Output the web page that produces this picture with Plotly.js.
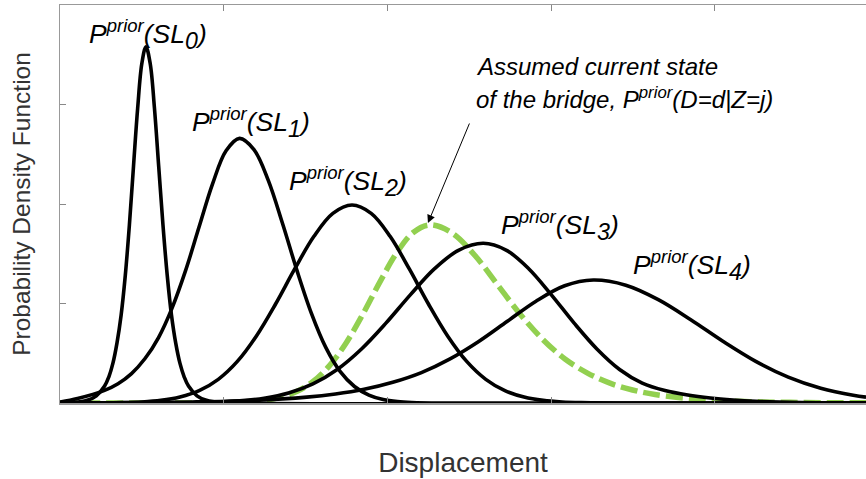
<!DOCTYPE html>
<html>
<head>
<meta charset="utf-8">
<script src="https://cdn.plot.ly/plotly-3.0.1.min.js"></script>
<style>html,body{margin:0;padding:0;background:#fff;}#chart{width:866px;height:479px;}</style>
</head>
<body>
<div id="chart"></div>
<script>
// Displacement (arbitrary units) and probability density values
const sl0X = [0, 0.020, 0.121, 0.1715, 0.222, 0.2725, 0.298, 0.323, 0.348, 0.3735, 0.399, 0.424, 0.449, 0.4745, 0.500, 0.525, 0.551, 0.577, 0.603, 0.629, 0.655, 0.681, 0.707, 0.733, 0.759, 0.785, 0.837, 0.889, 0.941, 1.045, 4.924];
const sl0Y = [0, 0.002, 0.0125, 0.030, 0.072, 0.170, 0.261, 0.398, 0.602, 0.885, 1.284, 1.790, 2.379, 2.964, 3.412, 3.58, 3.412, 2.964, 2.379, 1.790, 1.284, 0.885, 0.602, 0.398, 0.261, 0.170, 0.072, 0.030, 0.0125, 0.002, 0];

const sl1X = [0, 0.107, 0.272, 0.3545, 0.437, 0.5195, 0.602, 0.6845, 0.767, 0.8495, 0.932, 1.0145, 1.097, 1.185, 1.2725, 1.360, 1.448, 1.536, 1.6235, 1.711, 1.799, 1.887, 1.9745, 2.062, 2.150, 2.3255, 4.924];
const sl1Y = [0.01, 0.045, 0.127, 0.194, 0.296, 0.447, 0.658, 0.954, 1.33, 1.768, 2.202, 2.535, 2.66, 2.547, 2.237, 1.801, 1.33, 0.901, 0.559, 0.318, 0.166, 0.080, 0.035, 0.014, 0.005, 0, 0];

const sl2X = [0, 0.149, 0.383, 0.500, 0.6165, 0.733, 0.850, 0.967, 1.0835, 1.200, 1.317, 1.434, 1.5505, 1.667, 1.784, 1.901, 2.0175, 2.134, 2.251, 2.368, 2.4845, 2.601, 2.718, 2.835, 2.9515, 3.068, 3.185, 3.419, 4.924];
const sl2Y = [0, 0.0004, 0.004, 0.0105, 0.026, 0.060, 0.124, 0.238, 0.418, 0.674, 0.995, 1.347, 1.673, 1.906, 1.99, 1.906, 1.673, 1.347, 0.995, 0.674, 0.418, 0.238, 0.124, 0.060, 0.026, 0.0105, 0.004, 0.0004, 0];

const curX = [0, 0.8285, 1.033, 1.135, 1.2375, 1.340, 1.442, 1.544, 1.6465, 1.749, 1.851, 1.953, 2.0555, 2.158, 2.260, 2.3975, 2.535, 2.6725, 2.810, 2.9475, 3.085, 3.2225, 3.360, 3.4975, 3.635, 3.910, 4.185, 4.460, 4.735, 4.924];
const curY = [0, 0.0004, 0.0035, 0.0095, 0.0235, 0.054, 0.112, 0.214, 0.376, 0.606, 0.895, 1.212, 1.505, 1.714, 1.79, 1.706, 1.482, 1.189, 0.895, 0.642, 0.4425, 0.301, 0.199, 0.131, 0.0852, 0.0358, 0.0149, 0.0063, 0.0026, 0.0015];

const sl3X = [0, 0.5035, 0.801, 0.950, 1.0985, 1.247, 1.396, 1.545, 1.6935, 1.842, 1.991, 2.140, 2.2885, 2.437, 2.586, 2.725, 2.8635, 3.002, 3.141, 3.280, 3.4185, 3.557, 3.696, 3.835, 3.9735, 4.112, 4.251, 4.5285, 4.806, 4.924];
const sl3Y = [0, 0.0005, 0.003, 0.0085, 0.021, 0.048, 0.100, 0.192, 0.337, 0.543, 0.8025, 1.087, 1.350, 1.537, 1.605, 1.537, 1.350, 1.087, 0.8025, 0.543, 0.337, 0.200, 0.125, 0.080, 0.050, 0.030, 0.017, 0.005, 0.001, 0];

const sl4X = [0, 0.108, 0.458, 0.808, 1.158, 1.508, 1.683, 1.858, 2.033, 2.208, 2.383, 2.558, 2.733, 2.908, 3.083, 3.258, 3.4565, 3.655, 3.8535, 4.052, 4.2505, 4.449, 4.6475, 4.846, 4.924];
const sl4Y = [0.001, 0.0018, 0.0043, 0.0103, 0.0247, 0.0588, 0.090, 0.1376, 0.208, 0.3055, 0.443, 0.618, 0.821, 1.023, 1.178, 1.236, 1.184, 1.039, 0.837, 0.618, 0.4185, 0.260, 0.148, 0.077, 0.059];

const xTicks = [1, 2, 3, 4];
const yTicks = [1, 2, 3];

const levelIds = ['0', '1', '2', '3', '4'];
const labelX = [0.165, 0.797, 1.387, 2.682, 3.488];
const labelY = [3.705, 2.822, 2.224, 1.784, 1.377];

const noteLines = ['Assumed current state', 'of the bridge, P<sup>prior</sup>(D=d|Z=j)'];
const noteX = 2.530;
const noteY = [3.377, 3.065];
const arrowHead = [2.248, 1.809];
const arrowTail = [2.505, 2.824];

const FONT = '"Liberation Sans", Arial, Helvetica, sans-serif';
const black = {color: '#000', width: 3.6, shape: 'spline', smoothing: 1};

const traces = [
  {x: curX, y: curY, mode: 'lines', line: {color: '#92D050', width: 5.5, dash: '17px,6px', shape: 'spline', smoothing: 1}, name: 'Current state'},
  {x: sl4X, y: sl4Y, mode: 'lines', line: black, name: 'SL4'},
  {x: sl3X, y: sl3Y, mode: 'lines', line: black, name: 'SL3'},
  {x: sl2X, y: sl2Y, mode: 'lines', line: black, name: 'SL2'},
  {x: sl1X, y: sl1Y, mode: 'lines', line: black, name: 'SL1'},
  {x: sl0X, y: sl0Y, mode: 'lines', line: black, name: 'SL0'}
];

const annotations = [];
levelIds.forEach((id, i) => annotations.push({
  x: labelX[i], y: labelY[i], xref: 'x', yref: 'y', xanchor: 'left',
  text: '<i>P<sup>prior</sup>(SL<sub><span style="font-size:125%">' + id + '</span></sub>)</i>', showarrow: false,
  font: {family: FONT, size: 26.5, color: '#000'}
}));
noteLines.forEach((t, i) => annotations.push({
  x: noteX, y: noteY[i], xref: 'x', yref: 'y', xanchor: 'left', text: '<i>' + t + '</i>', showarrow: false,
  font: {family: FONT, size: 24, color: '#000'}
}));
annotations.push({
  x: arrowHead[0], y: arrowHead[1], xref: 'x', yref: 'y',
  ax: arrowTail[0], ay: arrowTail[1], axref: 'x', ayref: 'y',
  text: '', showarrow: true, arrowhead: 2, arrowsize: 1.6, arrowwidth: 1, arrowcolor: '#000'
});

const layout = {
  width: 866, height: 479,
  margin: {l: 60, r: 0, t: 5, b: 76},
  paper_bgcolor: '#fff', plot_bgcolor: '#fff',
  showlegend: false,
  font: {family: FONT, color: '#333'},
  xaxis: {
    range: [0, 4.924], tickvals: xTicks, showticklabels: false,
    ticks: 'inside', ticklen: 6, tickcolor: '#888', tickwidth: 1,
    showline: true, linecolor: '#999', linewidth: 1.5, mirror: 'ticks',
    showgrid: false, zeroline: false, automargin: false,
    title: {text: 'Displacement', font: {family: FONT, size: 28, color: '#333'}, standoff: 49}
  },
  yaxis: {
    range: [0, 4.0], tickvals: yTicks, showticklabels: false,
    ticks: 'inside', ticklen: 6, tickcolor: '#888', tickwidth: 1,
    showline: true, linecolor: '#999', linewidth: 1.5, mirror: false,
    showgrid: false, zeroline: false, automargin: false,
    title: {text: 'Probability Density Function', font: {family: FONT, size: 24.5, color: '#333'}, standoff: 21}
  },
  annotations: annotations
};

Plotly.newPlot('chart', traces, layout, {staticPlot: true, displayModeBar: false});
</script>
</body>
</html>
